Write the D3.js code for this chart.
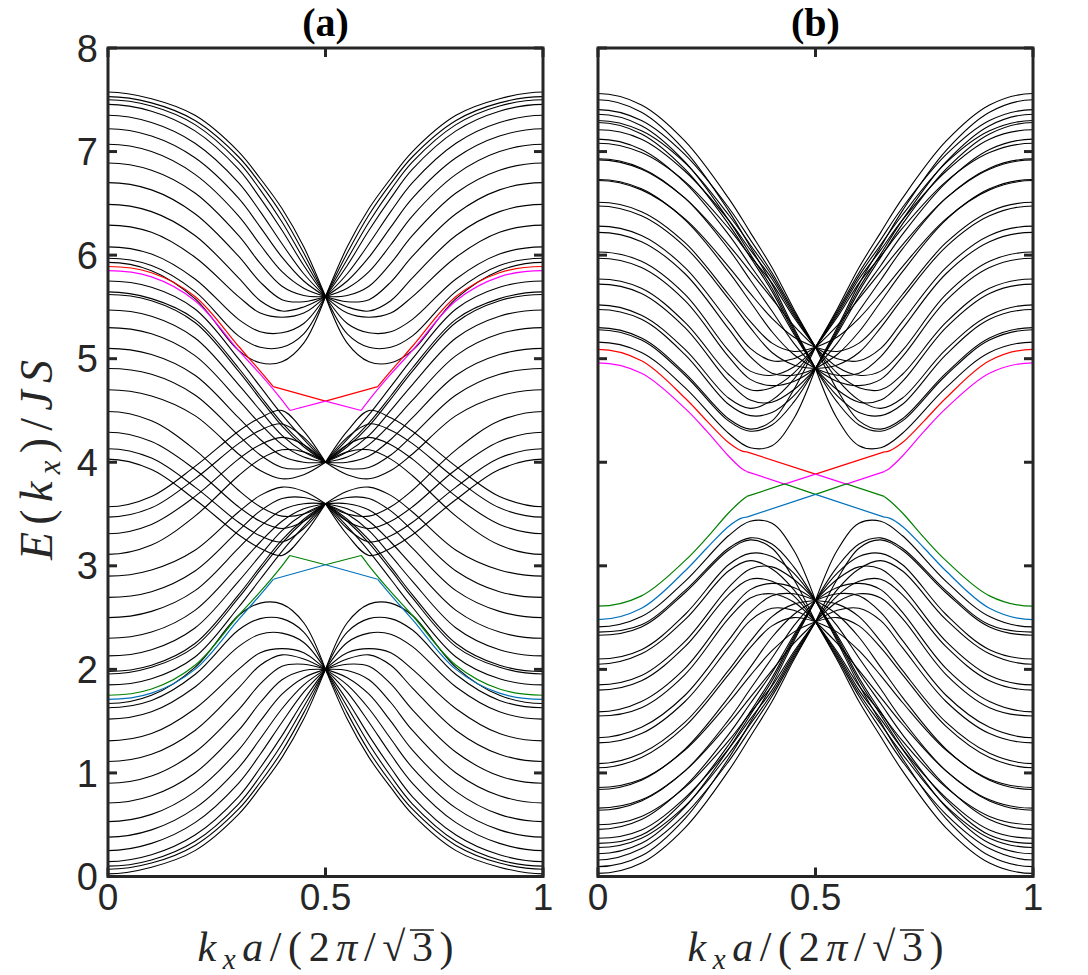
<!DOCTYPE html>
<html>
<head>
<meta charset="utf-8">
<script src="https://cdn.jsdelivr.net/npm/d3@7"></script>
<style>
  body { margin: 0; background: #fff; }
  svg { display: block; }
</style>
</head>
<body>
<div id="chart"></div>
<script>
// k samples on half the zone, bands are symmetric about k = 0.5
const kHalf = [0, 0.1, 0.2, 0.3, 0.35, 0.4, 0.45, 0.5]

// ---- panel (a) bulk bands, energy at each kHalf ----
const aTop = [
  [7.575, 7.51, 7.35, 7.00, 6.74, 6.45, 6.08, 5.60],
  [7.53, 7.47, 7.30, 6.95, 6.69, 6.39, 6.02, 5.60],
  [7.50, 7.44, 7.26, 6.90, 6.63, 6.32, 5.96, 5.60],
  [7.456, 7.39, 7.20, 6.83, 6.55, 6.24, 5.90, 5.60],
  [7.35, 7.28, 7.08, 6.70, 6.42, 6.11, 5.82, 5.60],
  [7.22, 7.15, 6.94, 6.55, 6.27, 5.98, 5.75, 5.60],
  [7.07, 7.00, 6.78, 6.38, 6.10, 5.84, 5.68, 5.60],
  [6.89, 6.82, 6.60, 6.19, 5.92, 5.70, 5.61, 5.60],
  [6.70, 6.63, 6.40, 5.99, 5.74, 5.57, 5.55, 5.60],
  [6.49, 6.42, 6.19, 5.78, 5.56, 5.46, 5.50, 5.60],
  [6.29, 6.22, 5.98, 5.60, 5.44, 5.40, 5.44, 5.60],
  [6.08, 6.01, 5.77, 5.38, 5.26, 5.25, 5.34, 5.60],
  [5.97, 5.90, 5.65, 5.22, 5.11, 5.11, 5.24, 5.60],
  [5.93, 5.85, 5.58, 5.08, 4.96, 4.97, 5.15, 5.60]
]
const aMidUpper = [
  [5.75, 5.69, 5.48, 5.00, 4.73, 4.46, 4.22, 4.00],
  [5.645, 5.58, 5.38, 4.91, 4.64, 4.38, 4.17, 4.00],
  [5.62, 5.56, 5.35, 4.88, 4.61, 4.35, 4.15, 4.00],
  [5.47, 5.41, 5.20, 4.75, 4.50, 4.26, 4.10, 4.00],
  [5.30, 5.24, 5.03, 4.60, 4.37, 4.17, 4.05, 4.00],
  [5.10, 5.04, 4.84, 4.43, 4.22, 4.06, 4.00, 4.00],
  [4.905, 4.85, 4.65, 4.26, 4.07, 3.95, 3.94, 4.00],
  [4.70, 4.64, 4.45, 4.08, 3.92, 3.84, 3.88, 4.00]
]
const aDip = [
  [4.03, 3.93, 3.64, 3.30, 3.17, 3.10, 3.30, 3.60],
  [4.13, 4.04, 3.76, 3.42, 3.29, 3.23, 3.36, 3.60],
  [4.29, 4.20, 3.93, 3.57, 3.43, 3.36, 3.43, 3.60],
  [4.49, 4.40, 4.12, 3.73, 3.57, 3.48, 3.50, 3.60]
]
const aHump = [
  [3.57, 3.67, 3.96, 4.30, 4.43, 4.50, 4.30, 4.00],
  [3.47, 3.56, 3.84, 4.18, 4.31, 4.37, 4.24, 4.00],
  [3.31, 3.40, 3.67, 4.03, 4.17, 4.24, 4.17, 4.00],
  [3.11, 3.20, 3.48, 3.87, 4.03, 4.12, 4.10, 4.00]
]
const aMidLower = [
  [1.85, 1.91, 2.12, 2.60, 2.87, 3.14, 3.38, 3.60],
  [1.955, 2.02, 2.22, 2.69, 2.96, 3.22, 3.43, 3.60],
  [1.98, 2.04, 2.25, 2.72, 2.99, 3.25, 3.45, 3.60],
  [2.13, 2.19, 2.40, 2.85, 3.10, 3.34, 3.50, 3.60],
  [2.30, 2.36, 2.57, 3.00, 3.23, 3.43, 3.55, 3.60],
  [2.50, 2.56, 2.76, 3.17, 3.38, 3.54, 3.60, 3.60],
  [2.695, 2.75, 2.95, 3.34, 3.53, 3.65, 3.66, 3.60],
  [2.90, 2.96, 3.15, 3.52, 3.68, 3.76, 3.72, 3.60]
]
const aBottom = [
  [0.025, 0.09, 0.25, 0.60, 0.86, 1.15, 1.52, 2.00],
  [0.07, 0.13, 0.30, 0.65, 0.91, 1.21, 1.58, 2.00],
  [0.10, 0.16, 0.34, 0.70, 0.97, 1.28, 1.64, 2.00],
  [0.144, 0.21, 0.40, 0.77, 1.05, 1.36, 1.70, 2.00],
  [0.25, 0.32, 0.52, 0.90, 1.18, 1.49, 1.78, 2.00],
  [0.38, 0.45, 0.66, 1.05, 1.33, 1.62, 1.85, 2.00],
  [0.53, 0.60, 0.82, 1.22, 1.50, 1.76, 1.92, 2.00],
  [0.71, 0.78, 1.00, 1.41, 1.68, 1.90, 1.99, 2.00],
  [0.90, 0.97, 1.20, 1.61, 1.86, 2.03, 2.05, 2.00],
  [1.11, 1.18, 1.41, 1.82, 2.04, 2.14, 2.10, 2.00],
  [1.31, 1.38, 1.62, 2.00, 2.16, 2.20, 2.16, 2.00],
  [1.52, 1.59, 1.83, 2.22, 2.34, 2.35, 2.26, 2.00],
  [1.63, 1.70, 1.95, 2.38, 2.49, 2.49, 2.36, 2.00],
  [1.67, 1.75, 2.02, 2.52, 2.64, 2.63, 2.45, 2.00]
]

// ---- panel (a) edge states: smooth part, then straight part to k = 0.5 ----
const aRedCurve = [[0, 5.89], [0.1, 5.83], [0.2, 5.60], [0.3, 5.12], [0.35, 4.88], [0.38, 4.73]]
const aRedLine = [[0.38, 4.73], [0.5, 4.59]]
const aMagentaCurve = [[0, 5.85], [0.1, 5.79], [0.2, 5.56], [0.3, 5.08], [0.35, 4.85], [0.4, 4.60], [0.418, 4.50]]
const aMagentaLine = [[0.418, 4.50], [0.5, 4.59]]
const aGreenCurve = [[0, 1.75], [0.1, 1.81], [0.2, 2.04], [0.3, 2.52], [0.35, 2.75], [0.4, 3.00], [0.418, 3.10]]
const aGreenLine = [[0.418, 3.10], [0.5, 3.01]]
const aBlueCurve = [[0, 1.71], [0.1, 1.77], [0.2, 2.00], [0.3, 2.48], [0.35, 2.72], [0.38, 2.87]]
const aBlueLine = [[0.38, 2.87], [0.5, 3.01]]

// ---- panel (b) bulk bands ----
const bUpper = [
  [7.56, 7.45, 7.10, 6.55, 6.22, 5.88, 5.48, 5.11],
  [7.50, 7.38, 7.01, 6.43, 6.08, 5.72, 5.30, 4.905],
  [7.405, 7.30, 6.97, 6.46, 6.15, 5.83, 5.46, 5.11],
  [7.36, 7.25, 6.90, 6.34, 6.01, 5.68, 5.28, 4.905],
  [7.30, 7.20, 6.89, 6.39, 6.10, 5.80, 5.44, 5.11],
  [7.28, 7.17, 6.83, 6.30, 5.98, 5.65, 5.26, 4.905],
  [7.21, 7.12, 6.81, 6.34, 6.05, 5.77, 5.42, 5.11],
  [7.12, 7.02, 6.70, 6.20, 5.90, 5.60, 5.24, 4.905],
  [7.08, 6.99, 6.71, 6.26, 5.99, 5.73, 5.40, 5.11],
  [6.93, 6.84, 6.55, 6.06, 5.76, 5.46, 5.15, 4.905],
  [6.92, 6.83, 6.55, 6.10, 5.84, 5.58, 5.32, 5.11],
  [6.73, 6.64, 6.34, 5.84, 5.55, 5.26, 5.04, 4.905],
  [6.72, 6.63, 6.35, 5.89, 5.63, 5.39, 5.21, 5.11],
  [6.51, 6.42, 6.12, 5.62, 5.36, 5.15, 5.07, 5.11],
  [6.475, 6.38, 6.08, 5.58, 5.30, 5.06, 4.94, 4.905],
  [6.28, 6.19, 5.88, 5.36, 5.10, 4.98, 5.00, 5.11],
  [6.22, 6.13, 5.82, 5.29, 5.02, 4.86, 4.84, 4.905],
  [6.03, 5.94, 5.62, 5.08, 4.88, 4.84, 4.92, 5.11],
  [5.97, 5.88, 5.56, 5.02, 4.80, 4.74, 4.78, 4.905],
  [5.77, 5.68, 5.35, 4.85, 4.70, 4.72, 4.86, 5.11],
  [5.72, 5.63, 5.30, 4.78, 4.60, 4.58, 4.70, 4.905],
  [5.52, 5.42, 5.09, 4.62, 4.52, 4.60, 4.80, 5.11],
  [5.475, 5.38, 5.04, 4.56, 4.45, 4.48, 4.64, 4.905],
  [5.30, 5.20, 4.86, 4.42, 4.32, 4.40, 4.70, 5.11],
  [5.28, 5.18, 4.84, 4.40, 4.30, 4.36, 4.58, 4.905],
  [5.16, 5.06, 4.72, 4.28, 4.14, 4.16, 4.42, 4.905]
]
const bLower = [
  [0.03, 0.13, 0.47, 1.02, 1.35, 1.69, 2.09, 2.46],
  [0.095, 0.20, 0.56, 1.14, 1.49, 1.85, 2.27, 2.665],
  [0.16, 0.27, 0.60, 1.11, 1.42, 1.74, 2.11, 2.46],
  [0.22, 0.32, 0.67, 1.23, 1.56, 1.89, 2.29, 2.665],
  [0.28, 0.37, 0.68, 1.18, 1.47, 1.77, 2.13, 2.46],
  [0.32, 0.40, 0.74, 1.27, 1.59, 1.92, 2.31, 2.665],
  [0.37, 0.45, 0.76, 1.23, 1.52, 1.80, 2.15, 2.46],
  [0.455, 0.55, 0.87, 1.37, 1.67, 1.97, 2.33, 2.665],
  [0.50, 0.58, 0.86, 1.31, 1.58, 1.84, 2.17, 2.46],
  [0.64, 0.73, 1.02, 1.51, 1.81, 2.11, 2.42, 2.665],
  [0.66, 0.74, 1.02, 1.47, 1.73, 1.99, 2.25, 2.46],
  [0.84, 0.93, 1.23, 1.73, 2.02, 2.31, 2.53, 2.665],
  [0.86, 0.94, 1.22, 1.68, 1.94, 2.18, 2.36, 2.46],
  [1.05, 1.15, 1.45, 1.95, 2.21, 2.42, 2.50, 2.46],
  [1.09, 1.19, 1.49, 1.99, 2.27, 2.51, 2.63, 2.665],
  [1.29, 1.38, 1.69, 2.21, 2.47, 2.59, 2.57, 2.46],
  [1.34, 1.44, 1.75, 2.28, 2.55, 2.71, 2.73, 2.665],
  [1.55, 1.63, 1.95, 2.49, 2.69, 2.73, 2.65, 2.46],
  [1.59, 1.69, 2.01, 2.55, 2.77, 2.83, 2.79, 2.665],
  [1.80, 1.89, 2.22, 2.72, 2.87, 2.85, 2.71, 2.46],
  [1.85, 1.94, 2.27, 2.79, 2.97, 2.99, 2.87, 2.665],
  [2.05, 2.15, 2.48, 2.95, 3.05, 2.97, 2.77, 2.46],
  [2.10, 2.19, 2.53, 3.01, 3.12, 3.09, 2.93, 2.665],
  [2.33, 2.41, 2.74, 3.15, 3.25, 3.17, 2.87, 2.46],
  [2.36, 2.43, 2.76, 3.17, 3.27, 3.21, 2.99, 2.665],
  [2.41, 2.51, 2.85, 3.29, 3.43, 3.41, 3.15, 2.665]
]

// ---- panel (b) edge states ----
const bRedCurve = [[0, 5.09], [0.1, 4.98], [0.2, 4.62], [0.25, 4.40], [0.3, 4.19], [0.33, 4.11], [0.342, 4.10]]
const bRedLine = [[0.342, 4.10], [0.5, 3.885]]
const bMagentaCurve = [[0, 4.96], [0.1, 4.86], [0.2, 4.52], [0.25, 4.30], [0.3, 4.06], [0.33, 3.94], [0.342, 3.91]]
const bMagentaLine = [[0.342, 3.91], [0.429, 3.79], [0.5, 3.885]]
const bGreenCurve = [[0, 2.61], [0.1, 2.71], [0.2, 3.05], [0.25, 3.27], [0.3, 3.51], [0.33, 3.63], [0.342, 3.67]]
const bGreenLine = [[0.342, 3.67], [0.429, 3.79], [0.5, 3.69]]
const bBlueCurve = [[0, 2.48], [0.1, 2.59], [0.2, 2.95], [0.25, 3.17], [0.3, 3.38], [0.33, 3.46], [0.342, 3.47]]
const bBlueLine = [[0.342, 3.47], [0.5, 3.69]]

// ticks
const yTicks = [0, 1, 2, 3, 4, 5, 6, 7, 8]
const xTicks = [0, 0.5, 1]
const xTickLabels = ['0', '0.5', '1']
const panelTitles = ['(a)', '(b)']
const edgeColors = ['#ff0000', '#ff00ff', '#008000', '#0072bd']

// ---- layout ----
const dims = { width: 1088, height: 975, top: 48, bottom: 876.5, panelW: 435 }
const panelLeft = [108, 598]

const svg = d3.select('#chart').append('svg')
  .attr('width', dims.width)
  .attr('height', dims.height)

const yScale = d3.scaleLinear().domain([0, 8]).range([dims.bottom, dims.top])

function drawPanel(idx, bands, edges) {
  const left = panelLeft[idx]
  const xScale = d3.scaleLinear().domain([0, 1]).range([left, left + dims.panelW])

  const smooth = d3.line()
    .x(d => xScale(d[0]))
    .y(d => yScale(d[1]))
    .curve(d3.curveCatmullRom.alpha(0.5))
  const straight = d3.line()
    .x(d => xScale(d[0]))
    .y(d => yScale(d[1]))

  const clipId = 'clip' + idx
  svg.append('clipPath').attr('id', clipId)
    .append('rect')
    .attr('x', left).attr('y', dims.top)
    .attr('width', dims.panelW).attr('height', dims.bottom - dims.top)

  const g = svg.append('g').attr('clip-path', `url(#${clipId})`)

  // each half band gets a reflected point beyond k=0 so it is flat at the zone edge
  const halves = pts => {
    const leftPts = [[-pts[1][0], pts[1][1]], ...pts]
    const rightPts = pts.map(([k, e]) => [1 - k, e]).reverse()
    rightPts.push([1 + pts[1][0], pts[1][1]])
    return [leftPts, rightPts]
  }

  const bandPaths = []
  bands.forEach(vals => {
    const pts = kHalf.map((k, i) => [k, vals[i]])
    halves(pts).forEach(p => bandPaths.push(p))
  })

  g.append('g').selectAll('path')
    .data(bandPaths)
    .join('path')
    .attr('d', smooth)
    .attr('fill', 'none')
    .attr('stroke', '#000')
    .attr('stroke-width', 1.1)

  edges.forEach((e, i) => {
    const eg = g.append('g')
      .attr('fill', 'none')
      .attr('stroke', edgeColors[i])
      .attr('stroke-width', 1.2)
    halves(e.curve).forEach(p => eg.append('path').attr('d', smooth(p)))
    const lineR = e.line.map(([k, v]) => [1 - k, v])
    eg.append('path').attr('d', straight(e.line))
    eg.append('path').attr('d', straight(lineR))
  })

  // frame + inward ticks
  const frame = svg.append('g').attr('stroke', '#262626').attr('stroke-width', 3)
  frame.append('rect')
    .attr('x', left).attr('y', dims.top)
    .attr('width', dims.panelW).attr('height', dims.bottom - dims.top)
    .attr('fill', 'none')
  const tl = 9
  yTicks.forEach(t => {
    frame.append('line').attr('x1', left).attr('x2', left + tl)
      .attr('y1', yScale(t)).attr('y2', yScale(t))
    frame.append('line').attr('x1', left + dims.panelW).attr('x2', left + dims.panelW - tl)
      .attr('y1', yScale(t)).attr('y2', yScale(t))
  })
  xTicks.forEach(t => {
    frame.append('line').attr('x1', xScale(t)).attr('x2', xScale(t))
      .attr('y1', dims.bottom).attr('y2', dims.bottom - tl)
    frame.append('line').attr('x1', xScale(t)).attr('x2', xScale(t))
      .attr('y1', dims.top).attr('y2', dims.top + tl)
  })

  // x tick labels
  svg.append('g').selectAll('text')
    .data(xTicks)
    .join('text')
    .attr('x', d => xScale(d))
    .attr('y', 910)
    .attr('text-anchor', 'middle')
    .attr('font-family', 'Liberation Sans, Arial, sans-serif')
    .attr('font-size', 37)
    .attr('fill', '#262626')
    .text((d, i) => xTickLabels[i])

  // title
  svg.append('text')
    .attr('x', xScale(0.5))
    .attr('y', 36)
    .attr('text-anchor', 'middle')
    .attr('font-family', 'Liberation Serif, DejaVu Serif, serif')
    .attr('font-weight', 'bold')
    .attr('font-size', 40)
    .text(panelTitles[idx])

  // x axis label  k_x a/(2π/√3)
  const xl = svg.append('text')
    .attr('x', xScale(0.5))
    .attr('y', 961)
    .attr('text-anchor', 'middle')
    .attr('font-family', 'Liberation Serif, DejaVu Serif, serif')
    .attr('font-size', 42)
    .attr('fill', '#262626')
    .attr('textLength', 256)
    .attr('lengthAdjust', 'spacing')
  xl.append('tspan').attr('font-style', 'italic').text('k')
  xl.append('tspan').attr('font-style', 'italic').attr('font-size', 29).attr('dy', 8).text('x')
  xl.append('tspan').attr('font-style', 'italic').attr('dy', -8).text('a')
  xl.append('tspan').text('/(2')
  xl.append('tspan').attr('font-style', 'italic').text('π')
  xl.append('tspan').text('/√')
  const three = xl.append('tspan').text('3')
  xl.append('tspan').text(')')

  // vinculum of the square root over the 3
  const bb = three.node().getBBox()
  svg.append('line')
    .attr('x1', bb.x - 2).attr('x2', bb.x + bb.width + 1)
    .attr('y1', 961 - 31).attr('y2', 961 - 31)
    .attr('stroke', '#262626')
    .attr('stroke-width', 1.6)
}

drawPanel(0, [...aTop, ...aMidUpper, ...aDip, ...aHump, ...aMidLower, ...aBottom], [
  { curve: aRedCurve, line: aRedLine },
  { curve: aMagentaCurve, line: aMagentaLine },
  { curve: aGreenCurve, line: aGreenLine },
  { curve: aBlueCurve, line: aBlueLine }
])
drawPanel(1, [...bUpper, ...bLower], [
  { curve: bRedCurve, line: bRedLine },
  { curve: bMagentaCurve, line: bMagentaLine },
  { curve: bGreenCurve, line: bGreenLine },
  { curve: bBlueCurve, line: bBlueLine }
])

// y tick labels (left panel only)
svg.append('g').selectAll('text')
  .data(yTicks)
  .join('text')
  .attr('x', 98)
  .attr('y', d => yScale(d))
  .attr('dy', '0.36em')
  .attr('text-anchor', 'end')
  .attr('font-family', 'Liberation Sans, Arial, sans-serif')
  .attr('font-size', 38)
  .attr('fill', '#262626')
  .text(d => d)

// y axis label  E(k_x)/JS
const yl = svg.append('text')
  .attr('transform', 'translate(52,460) rotate(-90)')
  .attr('text-anchor', 'middle')
  .attr('font-family', 'Liberation Serif, DejaVu Serif, serif')
  .attr('font-size', 46)
  .attr('fill', '#262626')
  .attr('textLength', 200)
  .attr('lengthAdjust', 'spacing')
yl.append('tspan').attr('font-style', 'italic').text('E')
yl.append('tspan').text('(')
yl.append('tspan').attr('font-style', 'italic').text('k')
yl.append('tspan').attr('font-style', 'italic').attr('font-size', 31).attr('dy', 8).text('x')
yl.append('tspan').attr('dy', -8).text(')/')
yl.append('tspan').attr('font-style', 'italic').text('JS')
</script>
</body>
</html>
